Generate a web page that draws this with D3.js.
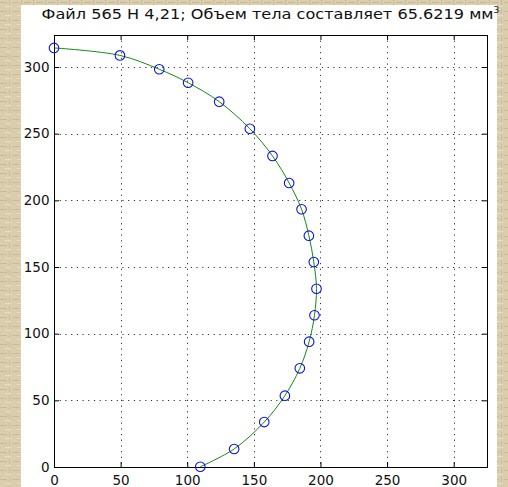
<!DOCTYPE html>
<html lang="ru">
<head>
<meta charset="utf-8">
<script src="https://cdn.jsdelivr.net/npm/d3@7"></script>
<style>
  body { margin: 0; background: #d8cbab; }
  svg { display: block; }
</style>
</head>
<body>
<script>
  // profile points (mm)
  var xVals = [0, 49.5, 79, 100.7, 124, 147, 164, 176.5, 185.8, 191.3, 195, 197, 195.5, 191.5, 184.5, 173.3, 157.8, 135.2, 109.8];
  var yVals = [314.3, 308.7, 298.3, 288.2, 274, 253.7, 233.3, 213, 193.3, 173.5, 153.7, 133.7, 113.8, 94, 74, 53.5, 33.7, 13.5, 0.2];
  var xTicks = [0, 50, 100, 150, 200, 250, 300];
  var yTicks = [0, 50, 100, 150, 200, 250, 300];
  var titleText = "Файл 565 Н 4,21; Объем тела составляет 65.6219 мм";
  var titleSup = "3";

  var w = 508, h = 487;
  var plot = { left: 54, right: 487, top: 35, bottom: 467 };

  var svg = d3.select("body").append("svg")
    .attr("width", w)
    .attr("height", h);

  // parchment-ish backdrop
  var defs = svg.append("defs");
  var pat = defs.append("pattern")
    .attr("id", "paper")
    .attr("width", 12).attr("height", 9)
    .attr("patternUnits", "userSpaceOnUse");
  pat.append("rect").attr("width", 12).attr("height", 9).attr("fill", "#d9cdae");
  pat.append("rect").attr("x", 0).attr("y", 2).attr("width", 7).attr("height", 1).attr("fill", "#c9b994");
  pat.append("rect").attr("x", 5).attr("y", 6).attr("width", 6).attr("height", 1).attr("fill", "#e6dcc4");
  pat.append("rect").attr("x", 9).attr("y", 0).attr("width", 1).attr("height", 5).attr("fill", "#cbbd9b");
  svg.append("rect").attr("width", w).attr("height", h).attr("fill", "url(#paper)");

  // white figure area
  svg.append("rect")
    .attr("x", 21).attr("y", 5)
    .attr("width", 476).attr("height", 482)
    .attr("fill", "#fff");

  var x = d3.scaleLinear().domain([0, 325]).range([plot.left, plot.right]);
  var y = d3.scaleLinear().domain([0, 324]).range([plot.bottom, plot.top]);

  // grid
  var grid = svg.append("g").attr("stroke", "#333").attr("stroke-width", 1)
    .attr("stroke-dasharray", "1.2,4.5");
  grid.selectAll(".vg").data(xTicks.slice(1)).enter().append("line")
    .attr("x1", d => Math.round(x(d)) + 0.5).attr("x2", d => Math.round(x(d)) + 0.5)
    .attr("y1", plot.top).attr("y2", plot.bottom);
  grid.selectAll(".hg").data(yTicks.slice(1)).enter().append("line")
    .attr("y1", d => Math.round(y(d)) + 0.5).attr("y2", d => Math.round(y(d)) + 0.5)
    .attr("x1", plot.left).attr("x2", plot.right);

  // axes: ticks pointing inwards on all four sides
  var tickFont = "'DejaVu Sans', sans-serif";
  svg.append("g")
    .attr("transform", "translate(0," + plot.bottom + ")")
    .call(d3.axisBottom(x).tickValues(xTicks).tickSizeInner(-5).tickSizeOuter(0).tickPadding(8.5));
  svg.append("g")
    .attr("transform", "translate(" + plot.left + ",0)")
    .call(d3.axisLeft(y).tickValues(yTicks).tickSizeInner(-5).tickSizeOuter(0).tickPadding(4.5));
  svg.append("g")
    .attr("transform", "translate(0," + plot.top + ")")
    .call(d3.axisTop(x).tickValues(xTicks).tickSizeInner(-5).tickSizeOuter(0).tickFormat(""));
  svg.append("g")
    .attr("transform", "translate(" + plot.right + ",0)")
    .call(d3.axisRight(y).tickValues(yTicks).tickSizeInner(-5).tickSizeOuter(0).tickFormat(""));
  svg.selectAll(".domain").remove();
  svg.selectAll(".tick line").attr("stroke", "#000");
  svg.selectAll(".tick text")
    .attr("font-family", tickFont)
    .attr("font-size", 13.5)
    .attr("fill", "#111");

  // the box
  svg.append("rect")
    .attr("x", plot.left + 0.5).attr("y", plot.top + 0.5)
    .attr("width", plot.right - plot.left).attr("height", plot.bottom - plot.top)
    .attr("fill", "none").attr("stroke", "#000").attr("stroke-width", 1);

  // smooth profile curve
  var pts = xVals.map((d, i) => [d, yVals[i]]);
  var line = d3.line()
    .x(d => x(d[0]))
    .y(d => y(d[1]))
    .curve(d3.curveCatmullRom.alpha(0.5));
  svg.append("path")
    .datum(pts)
    .attr("d", line)
    .attr("fill", "none")
    .attr("stroke", "#118a11")
    .attr("stroke-width", 1);

  svg.selectAll(".pt").data(pts).enter().append("circle")
    .attr("class", "pt")
    .attr("cx", d => x(d[0]))
    .attr("cy", d => y(d[1]))
    .attr("r", 4.8)
    .attr("fill", "none")
    .attr("stroke", "#1010e0")
    .attr("stroke-width", 1.1);

  // title, stretched to the width it has in the figure
  var title = svg.append("text")
    .attr("x", 41.5)
    .attr("y", 19)
    .attr("font-family", tickFont)
    .attr("font-size", 13.5)
    .attr("fill", "#111");
  title.append("tspan")
    .attr("textLength", 452)
    .attr("lengthAdjust", "spacingAndGlyphs")
    .text(titleText);
  title.append("tspan")
    .attr("font-size", 9)
    .attr("dy", -6)
    .text(titleSup);
</script>
</body>
</html>
